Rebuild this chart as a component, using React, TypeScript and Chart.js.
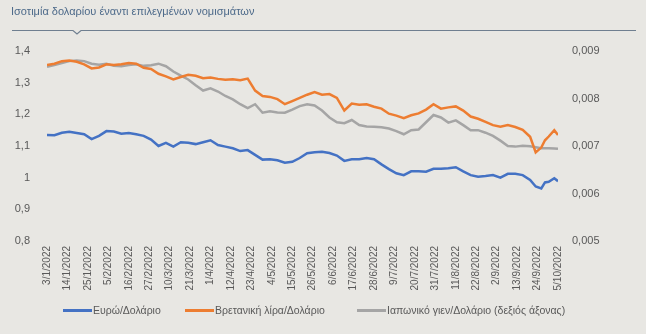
import React, { useEffect, useRef } from "react";
import { Chart, registerables } from "chart.js";

Chart.register(...registerables);

const titleText = "Ισοτιμία δολαρίου έναντι επιλεγμένων νομισμάτων";

const tickLabels = [
  "3/1/2022", "14/1/2022", "25/1/2022", "5/2/2022", "16/2/2022", "27/2/2022",
  "10/3/2022", "21/3/2022", "1/4/2022", "12/4/2022", "23/4/2022", "4/5/2022",
  "15/5/2022", "26/5/2022", "6/6/2022", "17/6/2022", "28/6/2022", "9/7/2022",
  "20/7/2022", "31/7/2022", "11/8/2022", "22/8/2022", "2/9/2022", "13/9/2022",
  "24/9/2022", "5/10/2022",
];

// days since 3/1/2022
const days = [
  0, 4, 8, 12, 16, 20, 24, 28, 32, 36, 40, 44, 48, 52, 56, 60, 64, 68, 72, 76,
  80, 84, 88, 92, 96, 100, 104, 108, 112, 116, 120, 124, 128, 132, 136, 140,
  144, 148, 152, 156, 160, 164, 168, 172, 176, 180, 184, 188, 192, 196, 200,
  204, 208, 212, 216, 220, 224, 228, 232, 236, 240, 244, 248, 252, 256, 260,
  263, 266, 268, 270, 273, 275,
];

const eurUsd = [
  1.135, 1.134, 1.142, 1.145, 1.141, 1.137, 1.122, 1.132, 1.147, 1.146, 1.139,
  1.141, 1.137, 1.132, 1.12, 1.1, 1.11, 1.098, 1.112, 1.11, 1.106, 1.112, 1.118,
  1.103, 1.098, 1.093, 1.084, 1.087, 1.072, 1.057, 1.058, 1.055, 1.047, 1.05,
  1.062, 1.077, 1.08, 1.082, 1.078, 1.07, 1.053, 1.058, 1.058, 1.062, 1.058,
  1.042, 1.027, 1.014, 1.008, 1.02, 1.02, 1.019, 1.028, 1.028, 1.03, 1.033,
  1.02, 1.008, 1.003, 1.005, 1.008, 1.0, 1.012, 1.012, 1.008, 0.993, 0.972,
  0.966, 0.985, 0.987, 0.998, 0.989,
];

const gbpUsd = [
  1.356, 1.36, 1.368, 1.37, 1.366, 1.358, 1.345, 1.348, 1.358, 1.356, 1.358,
  1.362, 1.36, 1.347, 1.343, 1.328, 1.32, 1.31, 1.318, 1.325, 1.322, 1.314,
  1.316, 1.312, 1.309, 1.311, 1.308, 1.313, 1.275, 1.258, 1.255, 1.248, 1.232,
  1.242, 1.252, 1.262, 1.27, 1.262, 1.264, 1.252, 1.212, 1.234, 1.23, 1.232,
  1.224, 1.218, 1.202, 1.196, 1.188, 1.197, 1.203, 1.215, 1.232, 1.218, 1.222,
  1.225, 1.212, 1.193, 1.186, 1.176, 1.166, 1.161, 1.166, 1.16, 1.151, 1.129,
  1.08, 1.095, 1.118, 1.13, 1.15, 1.135,
];

const jpyUsd = [
  0.008667, 0.008707, 0.008747, 0.008787, 0.0088, 0.008787, 0.008733, 0.008713,
  0.008733, 0.008687, 0.00868, 0.008707, 0.00872, 0.008687, 0.0087, 0.008733,
  0.00868, 0.008567, 0.00848, 0.0084, 0.00828, 0.008167, 0.008213, 0.008147,
  0.008053, 0.00798, 0.00788, 0.0078, 0.00788, 0.0077, 0.007733, 0.007707,
  0.0077, 0.007767, 0.00784, 0.00788, 0.007853, 0.007747, 0.0076, 0.0075,
  0.00748, 0.007547, 0.00744, 0.007413, 0.007407, 0.007393, 0.007367, 0.007313,
  0.007247, 0.007333, 0.007347, 0.0075, 0.007653, 0.0076, 0.007493, 0.00754,
  0.00744, 0.007333, 0.007333, 0.00728, 0.007213, 0.007113, 0.007, 0.006987,
  0.007007, 0.006993, 0.006973, 0.006953, 0.006953, 0.006953, 0.006947,
  0.00694,
];

const seriesNames = [
  "Ευρώ/Δολάριο",
  "Βρετανική λίρα/Δολάριο",
  "Ιαπωνικό γιεν/Δολάριο (δεξιός άξονας)",
];
const seriesColors = ["#4472C4", "#ED7D31", "#A5A5A5"];

const FONT = "'Liberation Sans', Arial, sans-serif";
const BG = "#e8e7e3";

export default function App() {
  const canvasRef = useRef<HTMLCanvasElement | null>(null);

  useEffect(() => {
    if (!canvasRef.current) return;
    const toPts = (vals: number[]) => days.map((d, i) => ({ x: d, y: vals[i] }));
    const chart = new Chart(canvasRef.current, {
      type: "line",
      data: {
        datasets: [
          {
            label: seriesNames[0],
            data: toPts(eurUsd),
            borderColor: seriesColors[0],
            backgroundColor: seriesColors[0],
            borderWidth: 2.5,
            pointRadius: 0,
            yAxisID: "y",
          },
          {
            label: seriesNames[1],
            data: toPts(gbpUsd),
            borderColor: seriesColors[1],
            backgroundColor: seriesColors[1],
            borderWidth: 2.5,
            pointRadius: 0,
            yAxisID: "y",
          },
          {
            label: seriesNames[2],
            data: toPts(jpyUsd),
            borderColor: seriesColors[2],
            backgroundColor: seriesColors[2],
            borderWidth: 2.5,
            pointRadius: 0,
            yAxisID: "y1",
          },
        ],
      },
      options: {
        animation: false,
        responsive: false,
        maintainAspectRatio: false,
        layout: { padding: { top: 51, left: 0, right: 0, bottom: 0 } },
        plugins: {
          legend: { display: false },
          tooltip: { enabled: false },
        },
        scales: {
          x: {
            type: "linear",
            min: 0,
            max: 275,
            grid: { display: false, drawTicks: false },
            border: { display: false },
            ticks: {
              stepSize: 11,
              autoSkip: false,
              minRotation: 90,
              maxRotation: 90,
              padding: 5,
              color: "#595959",
              font: { family: FONT, size: 10 },
              callback: (v: any) => tickLabels[Math.round(Number(v) / 11)] ?? "",
            },
            afterFit: (s: any) => {
              s.height = 334 - 241;
            },
          },
          y: {
            position: "left",
            min: 0.8,
            max: 1.4,
            grid: { display: false, drawTicks: false },
            border: { display: false },
            ticks: {
              stepSize: 0.1,
              padding: 17,
              color: "#595959",
              font: { family: FONT, size: 11 },
              callback: (v: any) =>
                (Math.round(Number(v) * 10) / 10).toString().replace(".", ","),
            },
            afterFit: (s: any) => {
              s.width = 47;
            },
          },
          y1: {
            position: "right",
            min: 0.005,
            max: 0.009,
            grid: { display: false, drawTicks: false },
            border: { display: false },
            ticks: {
              stepSize: 0.001,
              padding: 14,
              color: "#595959",
              font: { family: FONT, size: 11 },
              callback: (v: any) => Number(v).toFixed(3).replace(".", ","),
            },
            afterFit: (s: any) => {
              s.width = 646 - 558;
            },
          },
        },
      },
    });
    return () => chart.destroy();
  }, []);

  const legendLefts = [63, 185, 357];

  return (
    <div
      style={{
        position: "fixed",
        left: 0,
        top: 0,
        width: 646,
        height: 334,
        background: BG,
        overflow: "hidden",
        fontFamily: FONT,
      }}
    >
      <canvas
        ref={canvasRef}
        width={646}
        height={334}
        style={{ position: "absolute", left: 0, top: 0, width: 646, height: 334 }}
      />
      <div
        style={{
          position: "absolute",
          left: 11,
          top: 5,
          fontSize: 11,
          color: "#4d6a8a",
          whiteSpace: "nowrap",
        }}
      >
        {titleText}
      </div>
      <svg
        width={646}
        height={40}
        style={{ position: "absolute", left: 0, top: 0 }}
      >
        <polyline
          points="12,30.5 73,30.5 77,34 81,30.5 636,30.5"
          fill="none"
          stroke="#6f7f90"
          strokeWidth={1.2}
        />
      </svg>
      {seriesNames.map((name, i) => (
        <div
          key={name}
          style={{
            position: "absolute",
            left: legendLefts[i],
            top: 304,
            display: "flex",
            alignItems: "center",
            fontSize: 10.5,
            color: "#595959",
            whiteSpace: "nowrap",
          }}
        >
          <span
            style={{
              display: "inline-block",
              width: 29,
              height: 3,
              background: seriesColors[i],
              marginRight: 1,
            }}
          />
          <span>{name}</span>
        </div>
      ))}
    </div>
  );
}
